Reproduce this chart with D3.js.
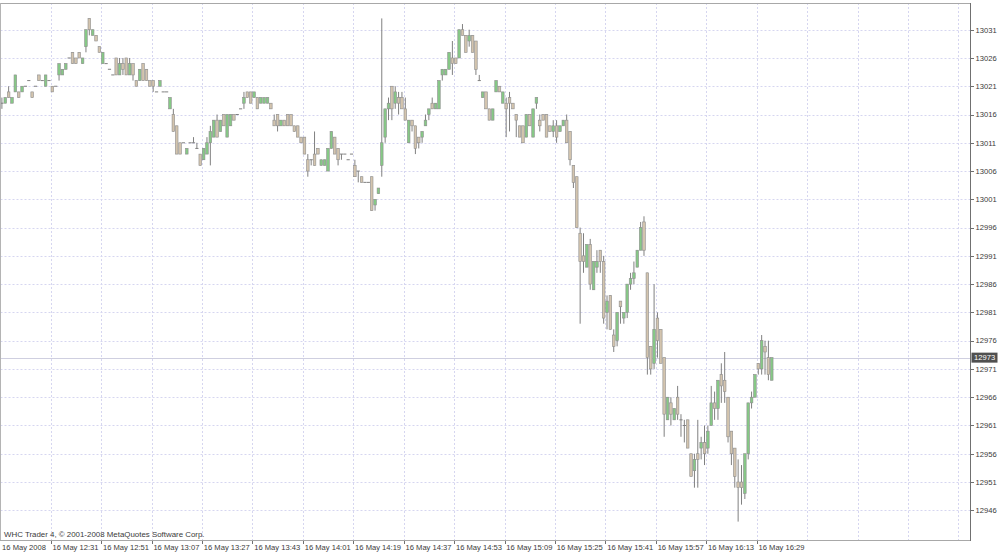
<!DOCTYPE html>
<html><head><meta charset="utf-8">
<script src="https://cdn.jsdelivr.net/npm/d3@7"></script>
<style>html,body{margin:0;padding:0;background:#fff;overflow:hidden;} svg{display:block;}</style>
</head><body>
<svg id="chart" width="1000" height="553"></svg>
<script>
// ---- data (1-minute bars, 16 May 2008) ----
const open = [
13018,13018,13020,13018,13020,13020,13020,13021,13022,
13020,13021,13023,13022,13021,13022,13021,13021,13023,13023,
13024,13026,13027,13026,13027,13025,13028,13033,13030,13030,
13028,13025,13025,13024,13023,13026,13023,13025,13026,13023,
13025,13022,13022,13025,13024,13022,13022,13020,13021,13020,
13020,13017,13016,13014,13011,13011,13009,13011,13011,13010,
13009,13008,13009,13011,13012,13015,13013,13016,13012,13014,
13016,13016,13017,13018,13020,13020,13019,13019,13018,13018,
13018,13018,13015,13016,13014,13015,13016,13016,13014,13014,
13012,13012,13008,13008,13009,13010,13007,13007,13006,13010,
13012,13010,13009,13009,13008,13009,13007,13006,13005,13004,
13004,13005,13000,13002,13007,13012,13017,13021,13018,13019,
13019,13017,13011,13015,13014,13012,13012,13014,13016,13018,
13017,13017,13023,13023,13024,13026,13026,13026,13031,13030,
13029,13030,13029,13022,13019,13020,13017,13015,13020,13021,
13018,13018,13019,13018,13016,13014,13014,13012,13016,13012,
13018,13015,13016,13016,13014,13013,13014,13013,13014,13015,
13013,13007,13005,12995,12991,12989,12993,12985,12989,12992,
12990,12981,12984,12977,
12976,12983,12980,12981,12986,
12987,12989,12992,12997,12988,12975,12972,12980,12978,12973,
12962,12965,12962,12966,12962,12961,12962,12956,12953,12956,
12957,12958,12957,12961,12965,12964,12970,12969,12966,12960,
12957,12951,12951,12949,12956,12965,12966,12972,12971,12975,
12973,12969];
const high = [
13019,13019,13021,13019,13023,13020,13021,13021,13022,
13020,13021,13023,13022,13023,13022,13021,13021,13025,13024,
13025,13026,13027,13026,13027,13026,13031,13033,13031,13030,
13028,13027,13025,13024,13023,13026,13026,13026,13026,13026,
13025,13022,13024,13025,13024,13022,13022,13020,13022,13020,
13020,13019,13017,13014,13011,13011,13010,13011,13012,13011,
13009,13010,13012,13014,13015,13016,13015,13016,13016,13016,
13016,13016,13017,13020,13020,13020,13020,13019,13019,13019,
13019,13018,13016,13016,13015,13015,13016,13016,13014,13014,
13012,13012,13009,13008,13013,13010,13008,13008,13010,13013,
13012,13010,13009,13009,13008,13009,13008,13006,13005,13004,
13004,13005,13001,13003,13033,13017,13019,13021,13021,13020,
13020,13019,13015,13015,13014,13012,13013,13016,13017,13019,
13018,13022,13024,13024,13027,13029,13026,13031,13032,13030,
13031,13030,13029,13023,13020,13020,13017,13017,13022,13021,
13020,13019,13020,13018,13016,13014,13014,13016,13016,13017,
13019,13016,13016,13016,13014,13015,13015,13014,13015,13016,
13013,13007,13005,12996,12995,12993,12994,12990,12992,12992,
12991,12984,12984,12978,
12981,12983,12981,12986,12988,
12990,12992,12997,12998,12988,12975,12986,12981,12978,12973,
12966,12966,12964,12968,12963,12962,12962,12956,12956,12962,
12959,12961,12961,12968,12967,12969,12972,12974,12966,12960,
12957,12955,12954,12956,12965,12967,12970,12972,12977,12976,
12976,12973];
const low = [
13017,13018,13019,13018,13020,13019,13020,13021,13022,
13019,13021,13022,13022,13021,13022,13020,13021,13022,13023,
13024,13026,13025,13025,13026,13025,13027,13030,13030,13029,
13027,13025,13025,13024,13023,13023,13023,13023,13023,13023,
13022,13021,13022,13022,13022,13021,13020,13020,13021,13020,
13020,13017,13013,13009,13009,13011,13009,13011,13011,13010,
13007,13008,13009,13007,13012,13012,13013,13014,13012,13014,
13015,13016,13017,13017,13019,13018,13019,13017,13018,13018,
13018,13017,13014,13013,13014,13014,13014,13014,13013,13012,
13011,13009,13005,13007,13007,13009,13007,13007,13006,13010,
13009,13007,13008,13009,13008,13009,13005,13004,13004,13004,
13004,12999,12999,13002,13005,13011,13015,13015,13017,13016,
13017,13015,13011,13013,13009,13010,13011,13014,13015,13017,
13017,13017,13022,13023,13024,13023,13025,13026,13030,13027,
13028,13027,13023,13022,13019,13017,13015,13015,13020,13020,
13018,13012,13013,13017,13012,13012,13011,13012,13014,13012,
13017,13013,13015,13012,13013,13012,13011,13013,13014,13011,
13007,13003,12996,12979,12988,12989,12985,12985,12988,12988,
12979,12978,12978,12974,
12975,12979,12979,12980,12985,
12986,12989,12992,12991,12970,12970,12971,12973,12972,12959,
12962,12961,12962,12962,12959,12958,12957,12952,12950,12950,
12955,12954,12956,12961,12962,12962,12965,12965,12958,12954,
12950,12944,12947,12948,12955,12964,12966,12970,12970,12970,
12969,12969];
const close = [
13018,13019,13019,13019,13023,13019,13021,13021,13022,
13019,13021,13022,13022,13023,13022,13020,13021,13025,13024,
13025,13026,13025,13025,13026,13026,13031,13031,13031,13029,
13027,13027,13025,13024,13023,13023,13025,13024,13023,13025,
13023,13021,13024,13022,13022,13021,13021,13020,13022,13020,
13020,13019,13013,13009,13009,13011,13010,13011,13011,13010,
13007,13010,13011,13013,13015,13012,13015,13014,13016,13016,
13015,13016,13017,13019,13019,13018,13020,13017,13019,13019,
13019,13017,13014,13014,13015,13014,13014,13014,13013,13012,
13011,13009,13006,13008,13007,13009,13008,13008,13010,13013,
13009,13008,13009,13009,13008,13009,13005,13006,13004,13004,
13004,12999,13001,13003,13011,13017,13018,13017,13020,13018,
13017,13015,13015,13014,13010,13011,13013,13015,13017,13017,
13018,13022,13024,13024,13027,13025,13025,13031,13030,13027,
13030,13027,13024,13022,13020,13017,13015,13017,13022,13020,
13020,13017,13018,13017,13015,13012,13011,13016,13014,13017,
13019,13014,13015,13012,13013,13014,13012,13014,13015,13011,
13008,13004,12996,12990,12990,12993,12986,12990,12990,12990,
12980,12983,12978,12975,
12981,12982,12981,12986,12987,
12988,12992,12996,12992,12973,12971,12978,12976,12972,12963,
12966,12963,12964,12963,12962,12961,12957,12952,12955,12955,
12958,12956,12960,12965,12964,12969,12968,12967,12959,12956,
12952,12950,12950,12956,12965,12966,12970,12971,12976,12974,
12970,12973];

const timeLabels = ["16 May 2008","16 May 12:31","16 May 12:51","16 May 13:07","16 May 13:27",
  "16 May 13:43","16 May 14:01","16 May 14:19","16 May 14:37","16 May 14:53","16 May 15:09",
  "16 May 15:25","16 May 15:41","16 May 15:57","16 May 16:13","16 May 16:29"];
const barsPerLabel = 15;
const priceTicks = [13031,13026,13021,13016,13011,13006,13001,12996,12991,12986,12981,12976,12971,12966,12961,12956,12951,12946];
const bidPrice = 12973;
const copyright = "WHC Trader 4, \u00A9 2001-2008 MetaQuotes Software Corp.";

// ---- layout ----
const svg = d3.select("#chart");
const frame = {left: 0.5, top: 3, right: 970, bottom: 540};
const FONT = "'Liberation Sans', Arial, sans-serif";
const bullFill = "#86c986", bearFill = "#d3c4ae", outline = "#8e8e8e", wickColor = "#808080";
const gridColor = "#d6d6f0";

const y = d3.scaleLinear().domain([12946, 13031]).range([510.3, 29.7]);
const x = d3.scaleLinear().domain([0, 225]).range([0.3, 756.7]);
const off = 1.6;

svg.append("defs").append("clipPath").attr("id","clip")
  .append("rect").attr("x",1).attr("y",frame.top).attr("width",frame.right-1).attr("height",frame.bottom-frame.top);

// grid
const grid = svg.append("g");
grid.selectAll("line.h").data(priceTicks).join("line")
  .attr("x1", frame.left).attr("x2", frame.right)
  .attr("y1", d => Math.round(y(d))+0.5).attr("y2", d => Math.round(y(d))+0.5)
  .attr("stroke", gridColor).attr("stroke-dasharray","2,2");
const vIdx = d3.range(barsPerLabel, 300, barsPerLabel).filter(i => x(i) < frame.right - 5);
grid.selectAll("line.v").data(vIdx).join("line")
  .attr("x1", d => Math.round(x(d))+0.5).attr("x2", d => Math.round(x(d))+0.5)
  .attr("y1", frame.top).attr("y2", frame.bottom)
  .attr("stroke", gridColor).attr("stroke-dasharray","2,2");

// bid line
svg.append("line").attr("x1",frame.left).attr("x2",frame.right)
  .attr("y1", Math.round(y(bidPrice))+0.5).attr("y2", Math.round(y(bidPrice))+0.5)
  .attr("stroke","#cfcfe0").attr("stroke-width",1);

// candles
const data = d3.range(open.length).map(i => ({i, o: open[i], h: high[i], l: low[i], c: close[i]}));
const cg = svg.append("g").attr("clip-path","url(#clip)");
cg.selectAll("line.wick").data(data.filter(d => d.h !== d.l)).join("line")
  .attr("x1", d => x(d.i)+off).attr("x2", d => x(d.i)+off)
  .attr("y1", d => y(d.h)).attr("y2", d => y(d.l))
  .attr("stroke", wickColor).attr("stroke-width", 1);
cg.selectAll("rect.body").data(data.filter(d => d.o !== d.c)).join("rect")
  .attr("x", d => x(d.i)+off-1.3).attr("width", 2.6)
  .attr("y", d => y(Math.max(d.o,d.c))).attr("height", d => Math.abs(y(d.o)-y(d.c)))
  .attr("fill", d => d.c > d.o ? bullFill : bearFill)
  .attr("stroke", outline).attr("stroke-width", 0.6);
cg.selectAll("line.doji").data(data.filter(d => d.o === d.c)).join("line")
  .attr("x1", d => x(d.i)+off-1.6).attr("x2", d => x(d.i)+off+1.6)
  .attr("y1", d => y(d.o)).attr("y2", d => y(d.o))
  .attr("stroke", wickColor).attr("stroke-width", 1);

// frame
svg.append("line").attr("x1",0).attr("x2",frame.right).attr("y1",frame.top+0.5).attr("y2",frame.top+0.5).attr("stroke","#a8a8a8");
svg.append("line").attr("x1",0).attr("x2",frame.right).attr("y1",frame.bottom+0.5).attr("y2",frame.bottom+0.5).attr("stroke","#a8a8a8");
svg.append("line").attr("x1",0.5).attr("x2",0.5).attr("y1",frame.top).attr("y2",frame.bottom).attr("stroke","#b4b4b4");
svg.append("line").attr("x1",frame.right+0.5).attr("x2",frame.right+0.5).attr("y1",frame.top).attr("y2",frame.bottom+1).attr("stroke","#707070");

// price axis
const pa = svg.append("g");
pa.selectAll("line").data(priceTicks).join("line")
  .attr("x1", frame.right+1).attr("x2", frame.right+4)
  .attr("y1", d => Math.round(y(d))+0.5).attr("y2", d => Math.round(y(d))+0.5)
  .attr("stroke","#707070");
pa.selectAll("text").data(priceTicks).join("text")
  .attr("x", frame.right+5.5).attr("y", d => y(d)+2.8)
  .attr("font-family", FONT).attr("font-size", 7.6).attr("fill","#3a3a3a")
  .text(d => d);

// bid label
const by = y(bidPrice);
svg.append("rect").attr("x", frame.right+1.5).attr("y", by-5).attr("width", 26).attr("height", 10).attr("fill","#505050");
svg.append("text").attr("x", frame.right+4).attr("y", by+2.8)
  .attr("font-family", FONT).attr("font-size", 7.6).attr("fill","#ffffff").text(bidPrice);

// time axis
const ta = svg.append("g");
const tIdx = timeLabels.map((t,k) => k*barsPerLabel);
ta.selectAll("line").data(tIdx.slice(1)).join("line")
  .attr("x1", d => Math.round(x(d))+0.5).attr("x2", d => Math.round(x(d))+0.5)
  .attr("y1", frame.bottom+1).attr("y2", frame.bottom+4).attr("stroke","#707070");
ta.selectAll("text").data(timeLabels).join("text")
  .attr("x", (d,k) => x(tIdx[k]) + 1.8).attr("y", 550)
  .attr("font-family", FONT).attr("font-size", 7.6).attr("fill","#3a3a3a")
  .text(d => d);

// copyright
svg.append("text").attr("x", 4).attr("y", 537)
  .attr("font-family", FONT).attr("font-size", 7.9).attr("fill","#3a3a3a").text(copyright);
</script>
</body></html>
